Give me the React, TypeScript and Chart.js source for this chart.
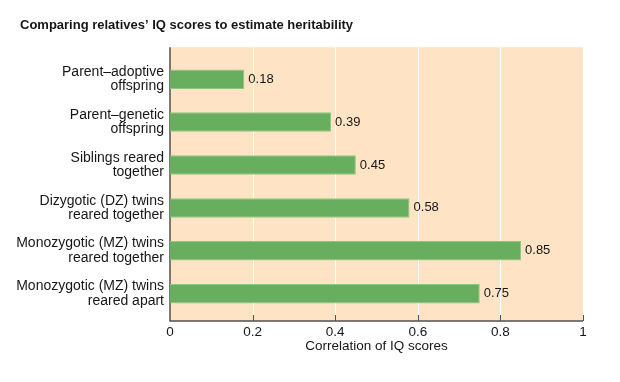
import React, { useEffect, useRef } from "react";
import { Chart, registerables } from "chart.js";

Chart.register(...registerables);

const categories: string[][] = [
  ["Parent–adoptive", "offspring"],
  ["Parent–genetic", "offspring"],
  ["Siblings reared", "together"],
  ["Dizygotic (DZ) twins", "reared together"],
  ["Monozygotic (MZ) twins", "reared together"],
  ["Monozygotic (MZ) twins", "reared apart"],
];
const correlations: number[] = [0.18, 0.39, 0.45, 0.58, 0.85, 0.75];
const xTicks: number[] = [0, 0.2, 0.4, 0.6, 0.8, 1];
const chartTitle = "Comparing relatives’ IQ scores to estimate heritability";
const xAxisTitle = "Correlation of IQ scores";

const FONT = "'Liberation Sans', Arial, Helvetica, sans-serif";
const PANEL_BG = "#fee4c4";
const BAR_FILL = "#68ae5f";
const BAR_EDGE = "#8fc682";
const AXIS_COLOR = "#505050";
const TEXT_COLOR = "#161616";

const titlePlugin = {
  id: "titlePlugin",
  afterDraw(chart: any) {
    const { ctx } = chart;
    ctx.save();
    ctx.font = `bold 13px ${FONT}`;
    ctx.fillStyle = TEXT_COLOR;
    ctx.textAlign = "left";
    ctx.textBaseline = "middle";
    ctx.fillText(chartTitle, 20, 25.8);
    ctx.restore();
  },
};

const panelPlugin = {
  id: "panelPlugin",
  beforeDatasetsDraw(chart: any) {
    const { ctx, chartArea, scales } = chart;
    const xs = scales.x;
    const left = chartArea.left;
    const right = chartArea.right;
    const top = chartArea.top - 10.5;
    const bottom = chartArea.bottom + 5.8;
    ctx.save();
    ctx.fillStyle = PANEL_BG;
    ctx.fillRect(left, top, right - left, bottom - top);
    ctx.strokeStyle = "#ffffff";
    ctx.lineWidth = 1;
    xTicks.forEach((v, i) => {
      if (i === 0 || i === xTicks.length - 1) return;
      const px = Math.round(xs.getPixelForValue(v)) + 0.5;
      ctx.beginPath();
      ctx.moveTo(px, top);
      ctx.lineTo(px, bottom);
      ctx.stroke();
    });
    ctx.strokeStyle = AXIS_COLOR;
    ctx.lineWidth = 1.5;
    ctx.beginPath();
    ctx.moveTo(left, top);
    ctx.lineTo(left, bottom);
    ctx.lineTo(right, bottom);
    ctx.stroke();
    ctx.lineWidth = 1;
    xTicks.forEach((v, i) => {
      if (i === 0) return;
      const px = Math.round(xs.getPixelForValue(v)) + 0.5;
      ctx.beginPath();
      ctx.moveTo(px, bottom - 6);
      ctx.lineTo(px, bottom);
      ctx.stroke();
    });
    ctx.restore();
  },
};

const valueLabelPlugin = {
  id: "valueLabelPlugin",
  afterDatasetsDraw(chart: any) {
    const { ctx } = chart;
    const meta = chart.getDatasetMeta(0);
    ctx.save();
    ctx.font = `13px ${FONT}`;
    ctx.fillStyle = TEXT_COLOR;
    ctx.textAlign = "left";
    ctx.textBaseline = "middle";
    meta.data.forEach((el: any, i: number) => {
      const v = correlations[i];
      ctx.fillText(v.toFixed(2), el.x + 4, el.y);
    });
    ctx.restore();
  },
};

export default function App() {
  const canvasRef = useRef<HTMLCanvasElement | null>(null);

  useEffect(() => {
    if (!canvasRef.current) return;
    Chart.defaults.font.family = FONT;
    const chart = new Chart(canvasRef.current, {
      type: "bar",
      data: {
        labels: categories,
        datasets: [
          {
            data: correlations,
            backgroundColor: BAR_FILL,
            borderColor: BAR_EDGE,
            borderWidth: 1,
            barPercentage: 0.455,
            categoryPercentage: 1,
          },
        ],
      },
      options: {
        indexAxis: "y",
        responsive: false,
        animation: false,
        devicePixelRatio: 1,
        layout: { padding: { left: 0, right: 37, top: 57.7, bottom: 0 } },
        plugins: {
          legend: { display: false },
          tooltip: { enabled: false },
          title: { display: false },
        },
        scales: {
          x: {
            type: "linear",
            position: "bottom",
            min: 0,
            max: 1,
            afterFit: (s: any) => {
              s.height = 66.8;
            },
            ticks: {
              stepSize: 0.2,
              padding: 8.7,
              color: TEXT_COLOR,
              font: { family: FONT, size: 13.5 },
              callback: (v: any) => String(Number(Number(v).toFixed(2))),
            },
            grid: { display: false, drawTicks: false },
            border: { display: false },
            title: {
              display: true,
              text: xAxisTitle,
              color: TEXT_COLOR,
              font: { family: FONT, size: 13.5 },
              padding: { top: 0, bottom: 27.2 },
            },
          },
          y: {
            type: "category",
            afterFit: (s: any) => {
              s.width = 170;
            },
            ticks: {
              padding: 6,
              color: TEXT_COLOR,
              font: { family: FONT, size: 14, lineHeight: 1.03 },
            },
            grid: { display: false, drawTicks: false },
            border: { display: false },
          },
        },
      },
      plugins: [panelPlugin, valueLabelPlugin, titlePlugin],
    } as any);
    return () => chart.destroy();
  }, []);

  return (
    <div style={{ position: "absolute", left: 0, top: 0, width: 620, height: 382, background: "#ffffff" }}>
      <canvas ref={canvasRef} width={620} height={382} style={{ display: "block" }} />
    </div>
  );
}
